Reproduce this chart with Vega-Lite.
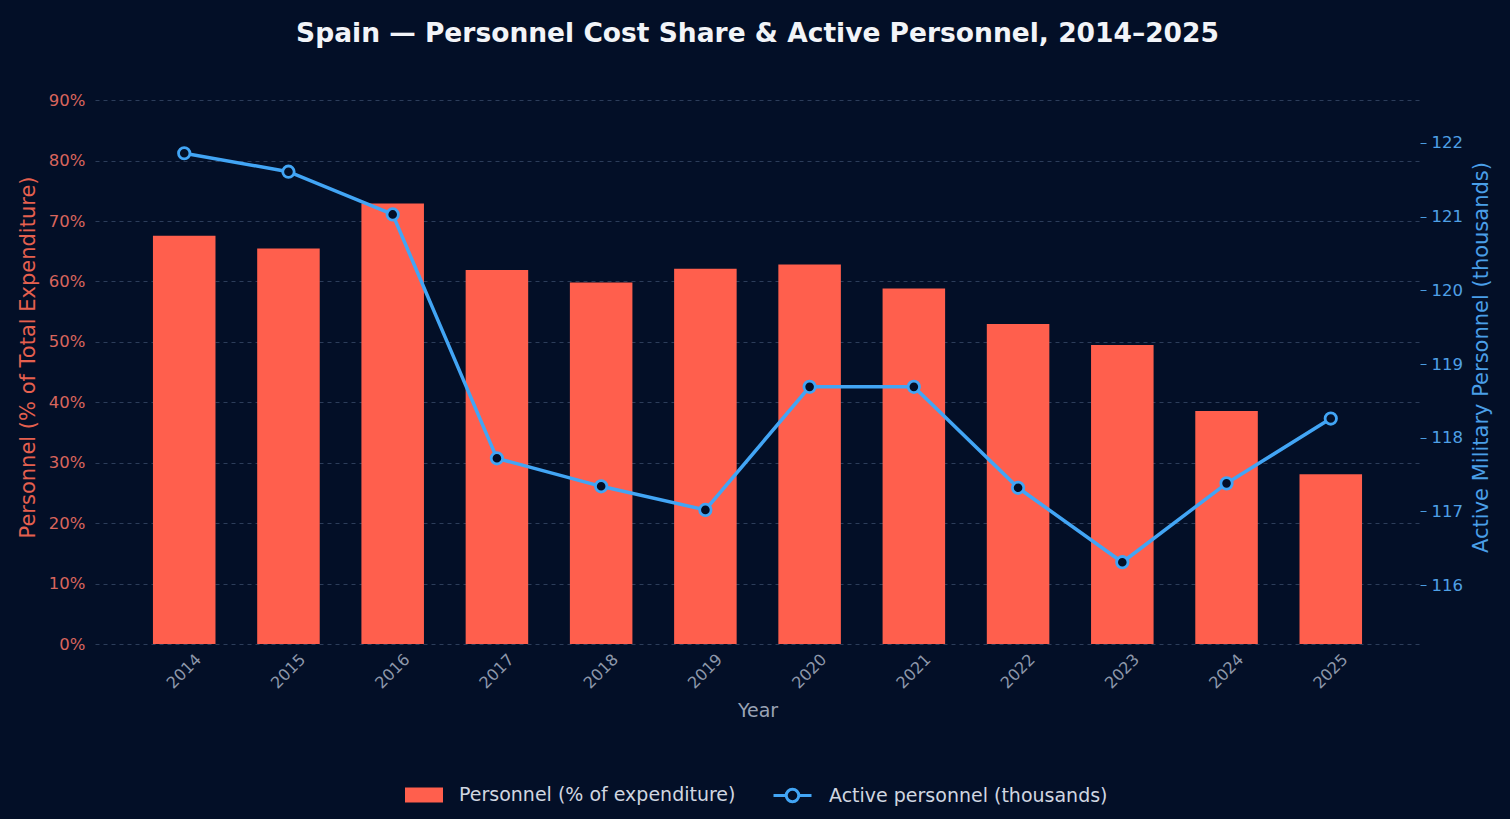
{
  "$schema": "https://vega.github.io/schema/vega-lite/v6.json",
  "width": 1325,
  "height": 574,
  "autosize": {"type": "none"},
  "padding": {"left": 95, "top": 70, "right": 90, "bottom": 175},
  "background": "#030f27",
  "config": {
    "font": "DejaVu Sans",
    "view": {"stroke": null},
    "legend": {"padding": 0}
  },
  "title": {
    "text": "Spain — Personnel Cost Share & Active Personnel, 2014–2025",
    "color": "#f2f4f8",
    "fontSize": 26.5,
    "fontWeight": "bold",
    "anchor": "middle",
    "offset": 23
  },
  "data": {
    "values": [
      {"year": "2014", "pct": 67.55, "personnel": 121.86},
      {"year": "2015", "pct": 65.47, "personnel": 121.61},
      {"year": "2016", "pct": 72.91, "personnel": 121.03},
      {"year": "2017", "pct": 61.88, "personnel": 117.72},
      {"year": "2018", "pct": 59.84, "personnel": 117.34},
      {"year": "2019", "pct": 62.1, "personnel": 117.02},
      {"year": "2020", "pct": 62.82, "personnel": 118.69},
      {"year": "2021", "pct": 58.85, "personnel": 118.69},
      {"year": "2022", "pct": 52.95, "personnel": 117.32},
      {"year": "2023", "pct": 49.47, "personnel": 116.31},
      {"year": "2024", "pct": 38.55, "personnel": 117.38},
      {"year": "2025", "pct": 28.08, "personnel": 118.26}
    ]
  },
  "encoding": {
    "x": {
      "field": "year",
      "type": "ordinal",
      "scale": {"paddingInner": 0.4, "paddingOuter": 0.556},
      "axis": {
        "title": "Year",
        "titleColor": "#9aa3b5",
        "titleFontSize": 19,
        "titleFontWeight": "normal",
        "titlePadding": 10,
        "labelAngle": -45,
        "labelAlign": "center",
        "labelBaseline": "middle",
        "labelPadding": 27,
        "labelColor": "#8e98ab",
        "labelFontSize": 16,
        "ticks": false,
        "domain": false,
        "grid": false
      }
    }
  },
  "layer": [
    {
      "mark": {"type": "bar"},
      "encoding": {
        "y": {
          "field": "pct",
          "type": "quantitative",
          "scale": {"domain": [0, 95], "nice": false},
          "axis": {
            "orient": "left",
            "title": "Personnel (% of Total Expenditure)",
            "titleColor": "#e5604f",
            "titleFontSize": 21,
            "titleFontWeight": "normal",
            "titlePadding": 10,
            "values": [0, 10, 20, 30, 40, 50, 60, 70, 80, 90],
            "labelExpr": "datum.value + '%'",
            "labelColor": "#d9655d",
            "labelFontSize": 16.5,
            "labelPadding": 10,
            "ticks": false,
            "domain": false,
            "grid": true,
            "gridColor": "#2c3d5a",
            "gridDash": [4, 4],
            "gridWidth": 1
          }
        },
        "fill": {
          "datum": "Personnel (% of expenditure)",
          "type": "nominal",
          "scale": {"range": ["#ff5f4d"]},
          "legend": {
            "orient": "none",
            "legendX": 310,
            "legendY": 706,
            "title": null,
            "labelColor": "#d0d6e0",
            "labelFontSize": 19,
            "labelFont": "DejaVu Sans",
            "labelLimit": 500,
            "symbolType": "M-1,-0.4H1V0.4H-1Z",
            "symbolSize": 1444,
            "symbolStrokeWidth": 0,
            "labelOffset": 16
          }
        }
      }
    },
    {
      "mark": {
        "type": "line",
        "strokeWidth": 3.5,
        "point": {"filled": false, "fill": "#030f27", "size": 130, "strokeWidth": 2.8}
      },
      "encoding": {
        "y": {
          "field": "personnel",
          "type": "quantitative",
          "scale": {"domain": [115.2, 122.99], "nice": false, "zero": false},
          "axis": {
            "orient": "right",
            "title": "Active Military Personnel (thousands)",
            "titleColor": "#4a9fe8",
            "titleFontSize": 21,
            "titleFontWeight": "normal",
            "titleAngle": 270,
            "titleBaseline": "top",
            "titlePadding": 8,
            "values": [116, 117, 118, 119, 120, 121, 122],
            "labelColor": "#4fa0e6",
            "labelFontSize": 16.5,
            "labelPadding": 5,
            "ticks": true,
            "tickColor": "#4a9be0",
            "tickSize": 6,
            "domain": false,
            "grid": false
          }
        },
        "stroke": {
          "datum": "Active personnel (thousands)",
          "type": "nominal",
          "scale": {"range": ["#42a5f5"]},
          "legend": {
            "orient": "none",
            "legendX": 677,
            "legendY": 705,
            "title": null,
            "labelColor": "#d0d6e0",
            "labelFontSize": 19,
            "labelFont": "DejaVu Sans",
            "labelLimit": 500,
            "symbolType": "M-1,0H-0.33M0.33,0H1M-0.33,0A0.33,0.33 0 1 0 0.33,0A0.33,0.33 0 1 0 -0.33,0",
            "symbolSize": 1444,
            "symbolStrokeWidth": 3,
            "symbolFillColor": "#030f27",
            "labelOffset": 16
          }
        }
      }
    }
  ],
  "resolve": {"scale": {"y": "independent"}}
}
